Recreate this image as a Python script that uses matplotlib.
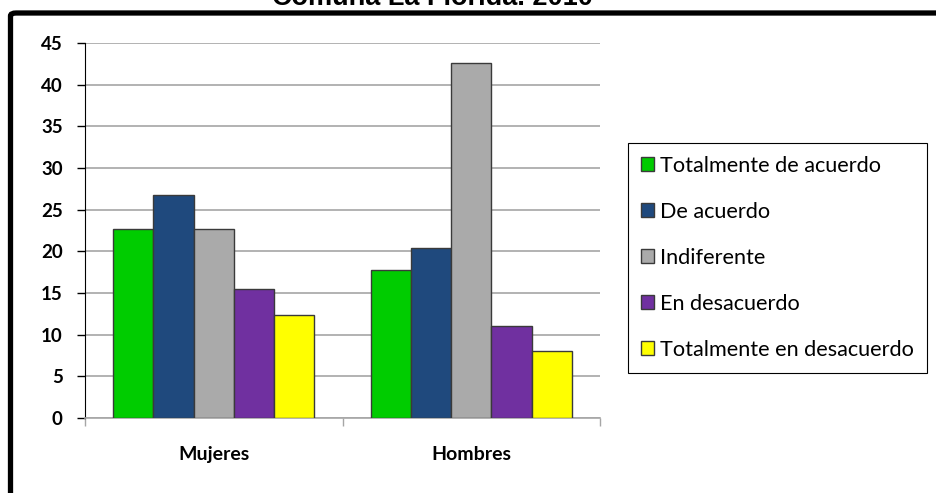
import matplotlib
matplotlib.use("Agg")
import matplotlib.pyplot as plt
import numpy as np
from matplotlib.patches import FancyBboxPatch

categories = ["Mujeres", "Hombres"]
series_names = ["Totalmente de acuerdo", "De acuerdo", "Indiferente",
                "En desacuerdo", "Totalmente en desacuerdo"]
totalmente_de_acuerdo = [22.7, 17.8]
de_acuerdo = [26.8, 20.4]
indiferente = [22.7, 42.6]
en_desacuerdo = [15.5, 11.1]
totalmente_en_desacuerdo = [12.4, 8.1]
yticks = [0, 5, 10, 15, 20, 25, 30, 35, 40, 45]
title = "Comuna La Florida. 2010"

series = [totalmente_de_acuerdo, de_acuerdo, indiferente,
          en_desacuerdo, totalmente_en_desacuerdo]
colors = ["#00CC00", "#1F497D", "#AAAAAA", "#7030A0", "#FFFF00"]

W, H = 936, 493
fig = plt.figure(figsize=(W / 100, H / 100), dpi=100)
fig.patch.set_facecolor("white")

# outer chart frame (thick black border, right/bottom edges off canvas)
frame = FancyBboxPatch((10.5 / W, -0.2), 1.2, (H - 13) / H + 0.2,
                       boxstyle="round,pad=0,rounding_size=0.006",
                       transform=fig.transFigure, fill=False,
                       edgecolor="black", linewidth=3.8, clip_on=False)
fig.patches.append(frame)

fig.text(432 / W, 1 - 5 / H, title, ha="center", va="baseline",
         fontsize=19.5, fontweight="bold", family="Liberation Sans")

ax = fig.add_axes([85 / W, 1 - 418 / H, (600 - 85) / W, (418 - 43) / H])
ax.set_xlim(0, 2)
ax.set_ylim(0, 45)

bw = 0.156
x = np.arange(len(categories)) + 0.5
for i, (vals, c, name) in enumerate(zip(series, colors, series_names)):
    ax.bar(x + (i - 2) * bw, vals, width=bw, color=c, edgecolor="#3a3a3a",
           linewidth=1.0, label=name, zorder=3)

ax.set_yticks(yticks)
ax.set_yticklabels([str(v) for v in yticks], fontsize=13.5, fontweight="bold",
                   family="Lato")
ax.yaxis.grid(True, color="#a6a6a6", linewidth=1.2, zorder=0)
ax.set_axisbelow(True)

ax.set_xticks([0, 1, 2])
ax.set_xticklabels([])
ax.set_xticks(x, minor=True)
ax.set_xticklabels(categories, minor=True, fontsize=14, fontweight="bold",
                   family="Lato")
ax.tick_params(axis="x", which="minor", length=0, pad=20)
ax.tick_params(axis="x", which="major", length=6, color="#a6a6a6", width=1)
ax.tick_params(axis="y", length=6, width=1, color="black", pad=10)

for s in ["top", "right"]:
    ax.spines[s].set_visible(False)
ax.spines["left"].set_color("black")
ax.spines["bottom"].set_color("#a6a6a6")
ax.spines["bottom"].set_linewidth(1.2)

leg = fig.legend(loc="upper left", bbox_to_anchor=(628 / W, 1 - 143 / H),
                 prop={"family": "Lato", "size": 15.6}, frameon=True,
                 fancybox=False, edgecolor="black", framealpha=1,
                 handlelength=0.6, handleheight=0.6, handletextpad=0.3,
                 labelspacing=1.2, borderpad=0.6, borderaxespad=0)
leg.get_frame().set_linewidth(0.8)

fig.savefig("out.png", dpi=100)
